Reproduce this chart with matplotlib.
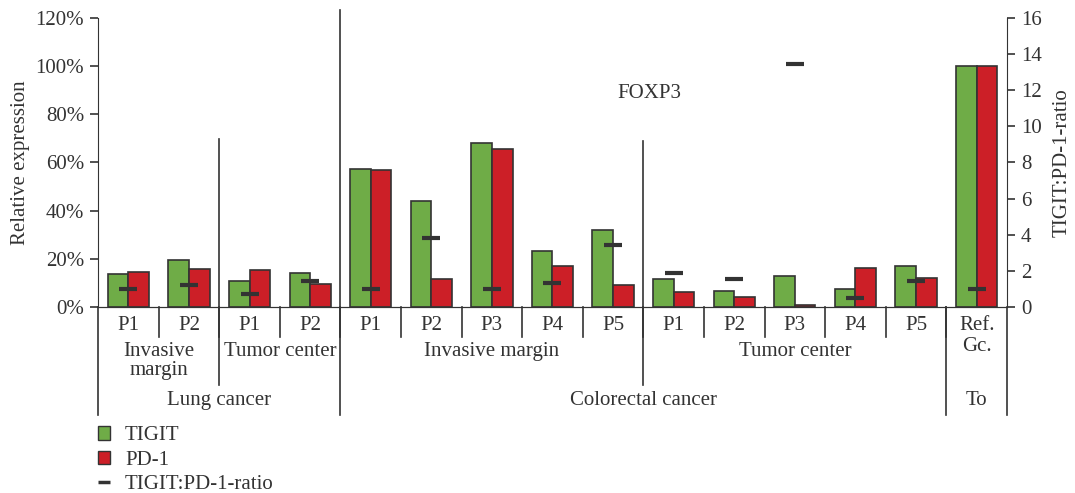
import numpy as np
import matplotlib
matplotlib.use("Agg")
import matplotlib.pyplot as plt
import matplotlib.transforms as mtransforms
from matplotlib.patches import Patch
from matplotlib.lines import Line2D

plt.rcParams['font.family'] = ['Liberation Serif', 'DejaVu Serif']
plt.rcParams['font.size'] = 15
plt.rcParams['text.color'] = '#333333'
plt.rcParams['axes.edgecolor'] = '#333333'
plt.rcParams['xtick.color'] = '#333333'
plt.rcParams['ytick.color'] = '#333333'
plt.rcParams['axes.labelcolor'] = '#333333'

# Data
patients = ['P1', 'P2', 'P1', 'P2', 'P1', 'P2', 'P3', 'P4', 'P5',
            'P1', 'P2', 'P3', 'P4', 'P5', 'Ref.\nGc.']
tigit = [13.7, 19.6, 10.8, 14.1, 57.4, 43.9, 68.3, 23.2, 31.8,
         11.7, 6.5, 13.0, 7.6, 17.1, 100.0]
pd1 = [14.4, 15.6, 15.2, 9.4, 57.0, 11.5, 65.8, 17.0, 9.0,
       6.1, 4.1, 1.0, 16.0, 12.2, 100.0]
ratio = [0.97, 1.22, 0.74, 1.44, 1.01, 3.84, 1.01, 1.35, 3.45,
         1.90, 1.57, 13.47, 0.51, 1.44, 1.01]
sites = [('Invasive\nmargin', 0, 2), ('Tumor center', 2, 4),
         ('Invasive margin', 4, 9), ('Tumor center', 9, 14)]
cancers = [('Lung cancer', 0, 4), ('Colorectal cancer', 4, 14), ('To', 14, 15)]

GREEN = '#6fac47'
RED = '#cc1f27'
DARK = '#333333'

fig = plt.figure(figsize=(10.75, 4.93), dpi=100)
ax = fig.add_axes([0.0912, 0.3773, 0.8455, 0.5862])
n = len(patients)
x = np.arange(n) + 0.5
w = 0.34
ax.bar(x - w / 2, tigit, w, color=GREEN, edgecolor=DARK, linewidth=1.2, zorder=2)
ax.bar(x + w / 2, pd1, w, color=RED, edgecolor=DARK, linewidth=1.2, zorder=2)
ax.set_xlim(0, n)
ax.set_ylim(0, 120)
ax.set_yticks(range(0, 121, 20))
ax.set_yticklabels([f'{v}%' for v in range(0, 121, 20)])
ax.set_xticks([])
ax.spines['top'].set_visible(False)
ax.spines['right'].set_visible(False)
ax.tick_params(axis='y', length=6, width=1.2, pad=4)
ax.set_ylabel('Relative expression', labelpad=4)

ax2 = ax.twinx()
ax2.plot(x, ratio, linestyle='none', marker='_', markersize=12.5,
         markeredgewidth=3, color=DARK, zorder=5)
ax2.set_ylim(0, 16)
ax2.set_yticks(range(0, 17, 2))
ax2.spines['top'].set_visible(False)
ax2.spines['left'].set_visible(False)
ax2.tick_params(axis='y', length=6, width=1.2, pad=4)
ax2.set_ylabel('TIGIT:PD-1-ratio', labelpad=8)

ax.text(0.607, 0.74, 'FOXP3', transform=ax.transAxes, ha='center', va='center')

# category axis drawn below the plot
tr = mtransforms.blended_transform_factory(ax.transData, ax.transAxes)
lk = dict(color=DARK, linewidth=1.2, transform=tr, clip_on=False)
for i in range(n):
    ax.text(x[i], -0.03, patients[i], transform=tr, ha='center', va='top')
for b in range(1, n):
    ax.plot([b, b], [0, -0.104], **lk)
for label, a, b in sites:
    ax.text((a + b) / 2, -0.12, label, transform=tr, ha='center', va='top',
            linespacing=1.05)
for label, a, b in cancers:
    ax.text((a + b) / 2, -0.29, label, transform=tr, ha='center', va='top')
ax.plot([2, 2], [0.581, -0.27], **lk)
ax.plot([9, 9], [0.574, -0.27], **lk)
ax.plot([4, 4], [1.028, -0.374], **lk)
ax.plot([14, 14], [0, -0.374], **lk)
ax.plot([0, 0], [0, -0.374], **lk)
ax.plot([n, n], [0, -0.374], **lk)

handles = [Patch(facecolor=GREEN, edgecolor=DARK, linewidth=1.0),
           Patch(facecolor=RED, edgecolor=DARK, linewidth=1.0),
           Line2D([], [], linestyle='none', marker='_', markersize=9,
                  markeredgewidth=2.5, color=DARK)]
fig.legend(handles, ['TIGIT', 'PD-1', 'TIGIT:PD-1-ratio'], loc='upper left',
           bbox_to_anchor=(0.091, 0.135), frameon=False, handlelength=0.6,
           handleheight=0.6, handletextpad=0.7, labelspacing=0.25,
           borderaxespad=0, borderpad=0)

fig.savefig('out.png', dpi=100)
